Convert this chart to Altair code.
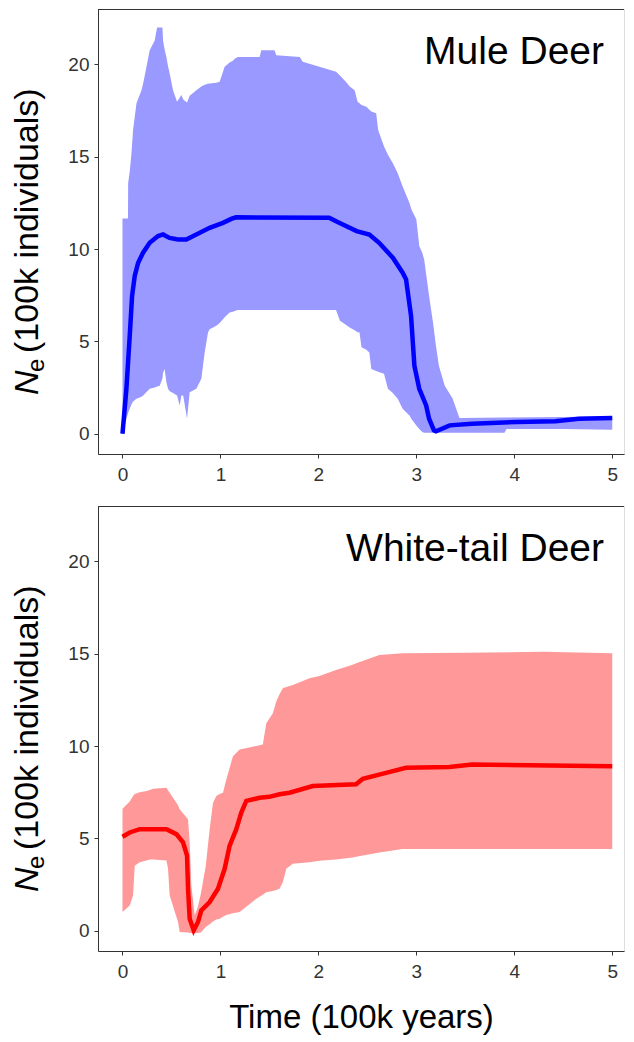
import altair as alt
import pandas as pd

FONT = "Liberation Sans"

# ---------------- Mule Deer ----------------
mule_band_t = [0, 0.04, 0.056, 0.058, 0.074, 0.092, 0.108, 0.143, 0.194, 0.211, 0.278, 0.329, 0.353,
               0.38, 0.408, 0.414, 0.43, 0.448, 0.465, 0.482, 0.516, 0.557, 0.584, 0.601, 0.62, 0.659,
               0.686, 0.754, 0.805, 0.839, 0.873, 0.89, 0.958, 0.992, 1.026, 1.043, 1.094, 1.127, 1.145,
               1.178, 1.40, 1.417, 1.552, 1.57, 1.81, 1.84, 2.01, 2.18, 2.22, 2.28, 2.32, 2.37, 2.40,
               2.42, 2.44, 2.49, 2.52, 2.54, 2.59, 2.61, 2.67, 2.71, 2.76, 2.81, 2.86, 2.93, 2.95, 3.0,
               3.03, 3.06, 3.08, 3.13, 3.17, 3.20, 3.23, 3.29, 3.37, 3.44, 3.9, 3.92, 4.5, 5.0]
mule_hi = [11.65, 11.65, 11.65, 13.57, 14.2, 15.2, 16.45, 17.9, 18.6, 18.97, 20.77, 21.3, 22.0,
           22.0, 22.0, 21.3, 20.8, 20.4, 19.9, 19.5, 18.6, 17.98, 18.2, 18.34, 18.1, 17.93,
           18.3, 18.6, 18.8, 18.9, 18.95, 18.97, 19.0, 19.06, 19.6, 19.87, 20.1, 20.2, 20.3,
           20.4, 20.4, 20.77, 20.77, 20.5, 20.4, 20.14, 19.87, 19.6, 19.4, 19.06, 18.8, 18.6, 17.98,
           17.9, 17.8, 17.7, 17.55, 17.45, 17.35, 16.45, 15.55, 15.1, 14.65, 14.1, 13.39, 12.5, 12.14, 11.6,
           10.16, 9.8, 9.44, 7.46, 6.02, 4.76, 3.68, 2.6, 1.9, 0.85, 0.88, 0.88, 0.9, 0.95]
mule_lo = [0.0, 0.81, 1.1, 1.15, 1.35, 1.6, 1.75, 1.89, 2.0, 2.07, 2.43, 2.5, 2.55,
           2.6, 3.0, 3.3, 3.5, 2.8, 2.43, 2.3, 2.2, 2.07, 1.53, 2.07, 2.07, 0.81,
           2.25, 2.43, 2.97, 4.4, 5.48, 5.66, 5.84, 6.0, 6.2, 6.3, 6.56, 6.6, 6.65,
           6.7, 6.7, 6.7, 6.7, 6.7, 6.7, 6.7, 6.7, 6.7, 6.11, 5.9, 5.75, 5.6, 5.5,
           5.48, 4.68, 4.55, 4.4, 3.5, 3.4, 3.35, 3.24, 2.43, 2.2, 1.89, 1.35, 0.99, 0.8, 0.45,
           0.25, 0.09, 0.05, 0.05, 0.05, 0.05, 0.05, 0.05, 0.05, 0.05, 0.05, 0.25, 0.25, 0.22]
mule_med_t = [0, 0.04, 0.074, 0.098, 0.125, 0.16, 0.21, 0.278, 0.363, 0.414, 0.48, 0.567, 0.652,
              0.754, 0.89, 1.026, 1.11, 1.16, 2.11, 2.18, 2.39, 2.52, 2.62, 2.76, 2.86, 2.895,
              2.946, 2.98, 3.03, 3.10, 3.13, 3.18, 3.20, 3.34, 3.57, 4.02, 4.42, 4.66, 5.0]
mule_med = [0.0, 2.43, 5.3, 7.46, 8.54, 9.26, 9.8, 10.34, 10.7, 10.79, 10.6, 10.52, 10.52,
            10.79, 11.15, 11.42, 11.63, 11.72, 11.69, 11.5, 10.97, 10.79, 10.34, 9.53, 8.72, 8.36,
            6.38, 3.68, 2.43, 1.53, 0.81, 0.18, 0.13, 0.45, 0.54, 0.63, 0.68, 0.81, 0.85]

# ---------------- White-tail Deer ----------------
wt_band_t = [0, 0.074, 0.108, 0.125, 0.176, 0.245, 0.278, 0.312, 0.449, 0.465, 0.482, 0.567, 0.584,
             0.669, 0.686, 0.703, 0.737, 0.77, 0.80, 0.85, 0.89, 0.924, 0.958, 0.992, 1.026, 1.06,
             1.128, 1.196, 1.366, 1.433, 1.468, 1.535, 1.57, 1.603, 1.637, 1.672, 1.739, 1.909,
             2.01, 2.18, 2.35, 2.385, 2.623, 2.86, 3.5, 4.3, 5.0]
wt_hi = [6.61, 7.0, 7.3, 7.4, 7.5, 7.56, 7.62, 7.69, 7.74, 7.6, 7.47, 6.8, 6.58,
         6.04, 4.78, 2.45, 0.83, 1.3, 2.0, 3.5, 5.5, 6.93, 7.3, 7.4, 7.47, 8.19,
         9.45, 9.81, 10.0, 10.08, 11.24, 11.78, 12.41, 12.8, 13.13, 13.2, 13.31, 13.67,
         13.8, 14.12, 14.4, 14.48, 14.93, 15.02, 15.05, 15.1, 15.02]
wt_lo = [1.01, 1.37, 1.91, 3.52, 3.7, 3.8, 3.85, 3.85, 3.8, 3.35, 1.91, 0.47, -0.07,
         -0.1, -0.12, -0.12, -0.12, -0.12, -0.1, 0.2, 0.35, 0.5, 0.6, 0.65, 0.75, 0.85,
         0.95, 1.01, 1.73, 1.95, 2.08, 2.15, 2.2, 2.27, 2.62, 3.35, 3.62, 3.7,
         3.79, 3.85, 3.97, 4.0, 4.24, 4.42, 4.42, 4.42, 4.42]
wt_med_t = [0, 0.074, 0.176, 0.449, 0.55, 0.618, 0.659, 0.669, 0.686, 0.727, 0.771, 0.805, 0.89,
            0.975, 1.043, 1.094, 1.162, 1.213, 1.264, 1.40, 1.50, 1.603, 1.705, 1.943, 2.385,
            2.453, 2.69, 2.895, 3.336, 3.57, 5.0]
wt_med = [5.09, 5.32, 5.5, 5.5, 5.23, 4.78, 4.06, 2.27, 0.65, 0.02, 0.47, 1.1, 1.55,
          2.27, 3.35, 4.6, 5.5, 6.4, 7.03, 7.2, 7.25, 7.39, 7.47, 7.83, 7.93,
          8.23, 8.55, 8.82, 8.86, 9.0, 8.91]

x_ticks = [0, 1, 2, 3, 4, 5]
y_ticks = [0, 5, 10, 15, 20]
X_DOMAIN = [-0.25, 5.12]
Y_DOMAIN = [-1.1, 23.0]
W, H = 526, 445
AX = "#333333"


def panel(name, band_t, lo, hi, med_t, med, band_color, line_color, show_title):
    band = pd.DataFrame({"t": band_t, "lo": lo, "hi": hi})
    line = pd.DataFrame({"t": med_t, "v": med})
    xaxis = alt.Axis(values=x_ticks, format="d",
                     title="Time (100k years)" if show_title else None,
                     grid=False, labelFontSize=19, labelColor=AX, labelPadding=7,
                     tickSize=4, tickColor=AX, domainColor=AX, titleFontSize=33,
                     titleFontWeight="normal", titleColor="black", titlePadding=20,
                     titleFont=FONT, labelFont=FONT, labelFlush=False)
    yaxis = alt.Axis(values=y_ticks, title=None, grid=False, labelFontSize=19, labelColor=AX,
                     labelPadding=5, tickSize=4, tickColor=AX, domainColor=AX, labelFont=FONT)
    xs = alt.Scale(domain=X_DOMAIN, nice=False, zero=False)
    ys = alt.Scale(domain=Y_DOMAIN, nice=False, zero=False)

    area = alt.Chart(band).mark_area(color=band_color, opacity=1).encode(
        x=alt.X("t:Q", scale=xs, axis=xaxis),
        y=alt.Y("lo:Q", scale=ys, axis=yaxis),
        y2="hi:Q",
    )
    ln = alt.Chart(line).mark_line(color=line_color, strokeWidth=4.5).encode(
        x="t:Q", y="v:Q"
    )
    one = pd.DataFrame({"k": [0]})
    label = alt.Chart(one).mark_text(text=name, font=FONT, fontSize=39, align="right",
                                     baseline="alphabetic", color="black").encode(
        x=alt.value(506), y=alt.value(55))
    t_n = alt.Chart(one).mark_text(text="N", font=FONT, fontSize=34, fontStyle="italic",
                                   angle=270, align="left", baseline="alphabetic",
                                   color="black").encode(x=alt.value(-60), y=alt.value(386))
    t_e = alt.Chart(one).mark_text(text="e", font=FONT, fontSize=24, angle=270, align="left",
                                   baseline="alphabetic", color="black").encode(
        x=alt.value(-54), y=alt.value(363))
    t_rest = alt.Chart(one).mark_text(text="(100k individuals)", font=FONT, fontSize=34,
                                      angle=270, align="left", baseline="alphabetic",
                                      color="black").encode(x=alt.value(-60), y=alt.value(344))
    top = alt.Chart(one).mark_rule(color=AX, strokeWidth=1).encode(
        x=alt.value(0), x2=alt.value(W), y=alt.value(0.5))
    return alt.layer(area, ln, top, label, t_n, t_e, t_rest).properties(width=W, height=H)


p1 = panel("Mule Deer", mule_band_t, mule_lo, mule_hi, mule_med_t, mule_med,
           "#9999FF", "#0000FF", False)
p2 = panel("White-tail Deer", wt_band_t, wt_lo, wt_hi, wt_med_t, wt_med,
           "#FF9999", "#FF0000", True)

chart = alt.vconcat(p1, p2, spacing=20,
                    padding={"left": 2, "top": 0, "right": 0, "bottom": 0}).configure_view(
    stroke=None).configure(background="white")

chart.save("out.html", embed_options={"renderer": "svg", "actions": False})
